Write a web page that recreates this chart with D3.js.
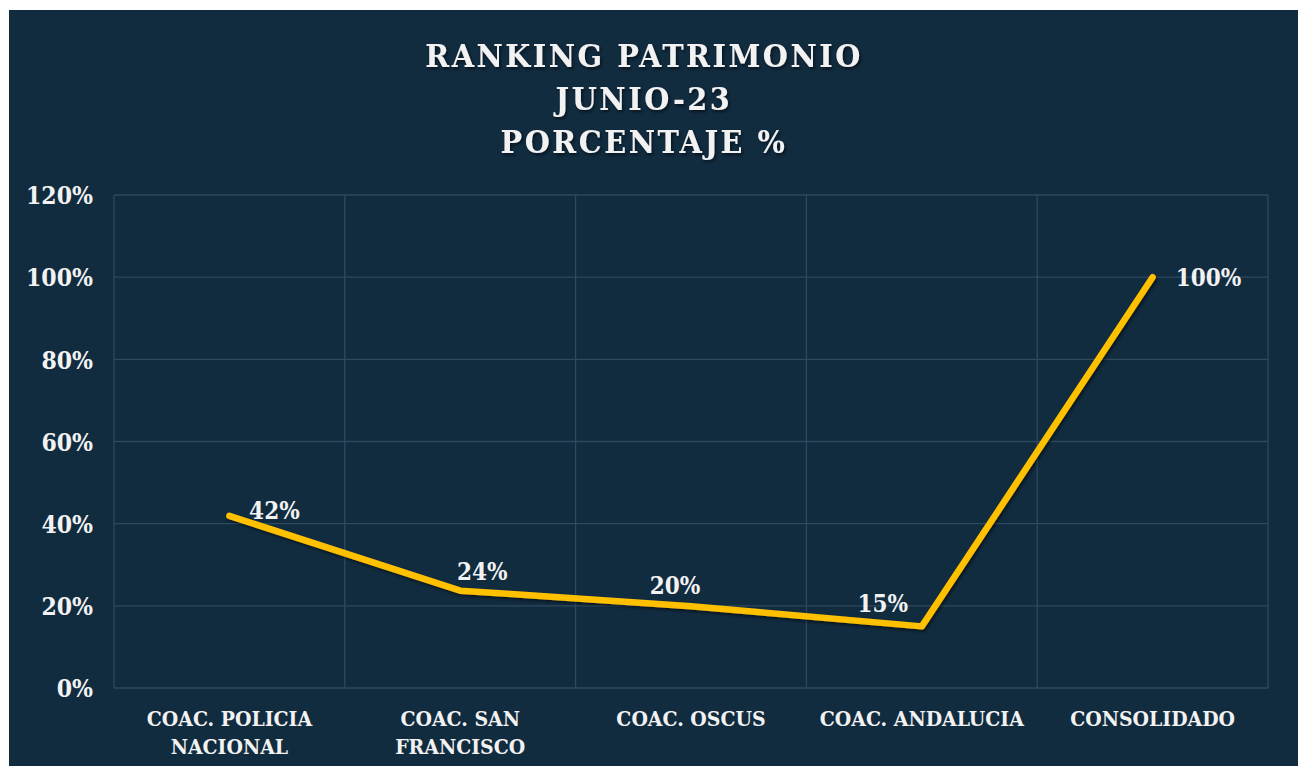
<!DOCTYPE html>
<html lang="es">
<head>
<meta charset="utf-8">
<title>Ranking Patrimonio</title>
<script src="https://cdn.jsdelivr.net/npm/d3@7"></script>
<style>
  html, body { margin: 0; padding: 0; background: #ffffff; }
  svg { display: block; }
  text { font-family: "DejaVu Serif", serif; font-stretch: condensed; font-weight: bold; fill: #f2f2f2; }
</style>
</head>
<body>
<script>
// data
var categories = [["COAC. POLICIA", "NACIONAL"], ["COAC. SAN", "FRANCISCO"], ["COAC. OSCUS"], ["COAC. ANDALUCIA"], ["CONSOLIDADO"]];
var values = [0.419, 0.237, 0.199, 0.150, 1.00];
var valueLabels = ["42%", "24%", "20%", "15%", "100%"];
var yTicks = [0, 0.2, 0.4, 0.6, 0.8, 1.0, 1.2];
var titleLines = ["RANKING PATRIMONIO", "JUNIO-23", "PORCENTAJE %"];

// label placement relative to each point (layout only)
var labelDx = [45, 22, -16, -39, 56];
var labelDy = [-6, -19, -21, -23, 0];

var W = 1298, H = 766;
var svg = d3.select("body").append("svg").attr("width", W).attr("height", H);

var defs = svg.append("defs");
var sh = defs.append("filter").attr("id", "shadow").attr("x", "-10%").attr("y", "-10%").attr("width", "120%").attr("height", "130%");
sh.append("feDropShadow").attr("dx", 1.5).attr("dy", 2).attr("stdDeviation", 1.5)
  .attr("flood-color", "#000").attr("flood-opacity", 0.55);

svg.append("rect").attr("x", 9).attr("y", 10).attr("width", W - 9).attr("height", H - 10).attr("fill", "#112b3f");

var x = d3.scaleBand().domain(d3.range(categories.length)).range([114, 1268]).padding(0);
var y = d3.scaleLinear().domain([0, 1.2]).range([688, 195]);

// grid
var g = svg.append("g");
g.selectAll("line.h").data(yTicks).enter().append("line")
  .attr("x1", 114).attr("x2", 1268)
  .attr("y1", function(d) { return y(d); }).attr("y2", function(d) { return y(d); })
  .attr("stroke", "#2e4a5e").attr("stroke-width", 1.3);
var vlines = d3.range(categories.length + 1).map(function(i) { return i < categories.length ? x(i) : x.range()[1]; });
g.selectAll("line.v").data(vlines).enter().append("line")
  .attr("x1", function(d) { return d; }).attr("x2", function(d) { return d; })
  .attr("y1", y(1.2)).attr("y2", y(0))
  .attr("stroke", "#2e4a5e").attr("stroke-width", 1.3);

// y axis labels
var yAxis = d3.axisLeft(y).tickValues(yTicks).tickFormat(d3.format(".0%")).tickSize(0).tickPadding(0);
var ya = svg.append("g").attr("transform", "translate(93,0)").call(yAxis);
ya.select(".domain").remove();
ya.selectAll("text").attr("font-size", 24.5).attr("fill", "#f2f2f2")
  .style("font-family", "'DejaVu Serif', serif").attr("dy", "0.36em");

// x labels
var xl = svg.append("g").selectAll("text").data(categories).enter().append("text")
  .attr("text-anchor", "middle").attr("font-size", 21)
  .attr("x", function(d, i) { return x(i) + x.bandwidth() / 2; })
  .attr("y", 726);
xl.selectAll("tspan").data(function(d) { return d; }).enter().append("tspan")
  .attr("x", function() { return d3.select(this.parentNode).attr("x"); })
  .attr("dy", function(d, i) { return i === 0 ? 0 : 28; })
  .text(function(d) { return d; });

// line
var line = d3.line()
  .x(function(d, i) { return x(i) + x.bandwidth() / 2; })
  .y(function(d) { return y(d); });
svg.append("path").datum(values).attr("d", line)
  .attr("fill", "none").attr("stroke", "#ffc000").attr("stroke-width", 6.5)
  .attr("stroke-linecap", "round").attr("stroke-linejoin", "round")
  .attr("filter", "url(#shadow)");

// data labels
svg.append("g").selectAll("text").data(values).enter().append("text")
  .attr("text-anchor", "middle").attr("font-size", 24)
  .attr("x", function(d, i) { return x(i) + x.bandwidth() / 2 + labelDx[i]; })
  .attr("y", function(d, i) { return y(d) + labelDy[i]; })
  .attr("dy", "0.36em")
  .text(function(d, i) { return valueLabels[i]; });

// title
svg.append("g").attr("filter", "url(#shadow)").selectAll("text").data(titleLines).enter().append("text")
  .attr("text-anchor", "middle").attr("font-size", 32).attr("letter-spacing", 2.5)
  .attr("x", 644).attr("y", function(d, i) { return 67 + i * 43; })
  .text(function(d) { return d; });
</script>
</body>
</html>
